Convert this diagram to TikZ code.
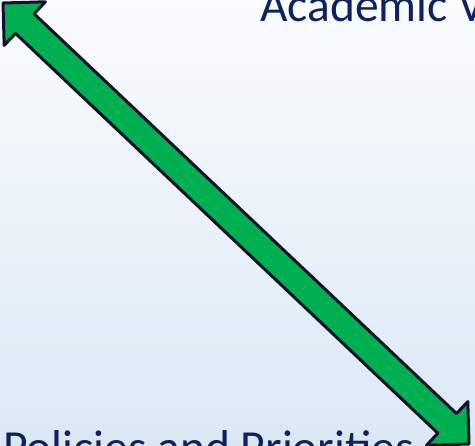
\documentclass[tikz,border=0pt]{standalone}
\usepackage{fontspec}
\setmainfont{Carlito}
\definecolor{bgtop}{HTML}{FAFCFE}
\definecolor{bgbot}{HTML}{DBE8F4}
\definecolor{navytext}{HTML}{0C2262}
\definecolor{arrowfill}{HTML}{00B050}
\definecolor{arrowline}{HTML}{101030}
\tikzset{
  bigtext/.style={text=navytext, inner sep=0pt, font=\fontsize{47.5}{57}\selectfont},
  blockarrow/.style={fill=arrowfill, draw=arrowline, line width=3pt, line join=round}
}
\begin{document}
\begin{tikzpicture}[x=1pt,y=-1pt]
\shade[top color=bgtop, bottom color=bgbot] (0,0) rectangle (475,446);
\useasboundingbox (0,0) rectangle (475,446);
\begin{scope}
\clip (0,0) rectangle (475,446);
\node[bigtext, anchor=base west] (academic) at (260,21.7) {Academic V};
\node[bigtext, anchor=base west] (policies) at (3,463.6) {Policies and Priorities};
\draw[blockarrow] (3,3) -- (45.4,1.8) -- (34.1,13.8) -- (456.5,413.6) -- (467.8,401.6)
  -- (469,444) -- (426.6,445.2) -- (437.9,433.2) -- (15.5,33.4) -- (4.2,45.4) -- cycle;
\end{scope}
\end{tikzpicture}
\end{document}
